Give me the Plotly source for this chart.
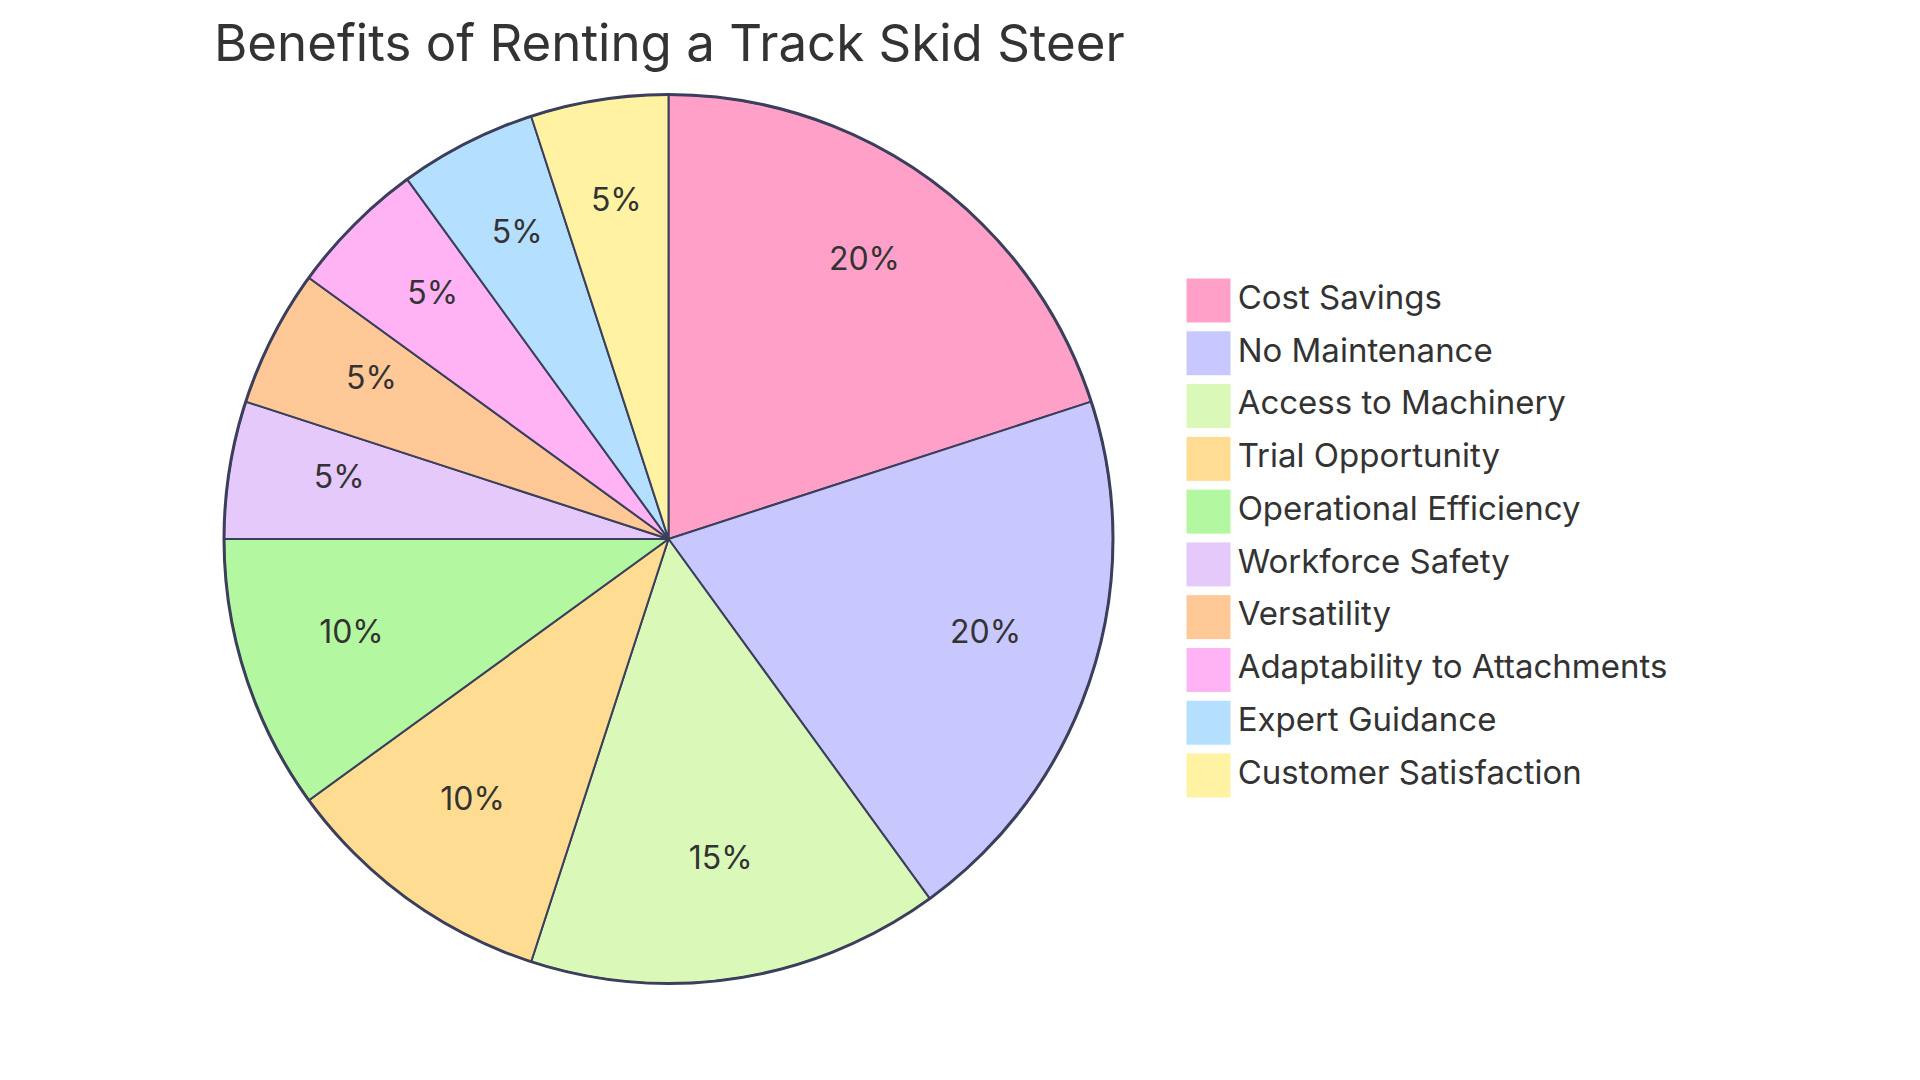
import numpy as np
import plotly.graph_objects as go

categories = ["Cost Savings", "No Maintenance", "Access to Machinery", "Trial Opportunity",
              "Operational Efficiency", "Workforce Safety", "Versatility",
              "Adaptability to Attachments", "Expert Guidance", "Customer Satisfaction"]
values = [20, 20, 15, 10, 10, 5, 5, 5, 5, 5]
colors = ["#FFA0C8", "#C8C8FF", "#DAF8B8", "#FEDD92", "#B3F7A0",
          "#E5C9FB", "#FFC896", "#FFB3F5", "#B4DFFF", "#FFF3A3"]
title_text = "Benefits of Renting a Track Skid Steer"

W, H = 1920, 1080
OFF = 8  # page body margin
FONT = "Inter, 'Open Sans', sans-serif"
TEXT = "#333333"
EDGE = "#3B3F5C"

fig = go.Figure()

cx, cy, r = 668.5 - OFF, 539.0 - OFF, 444.5
dom = dict(x=[(cx - r) / W, (cx + r) / W], y=[(H - cy - r) / H, (H - cy + r) / H])
lift = 7 / H  # labels sit slightly above the slice centroid
dom_lbl = dict(x=dom["x"], y=[dom["y"][0] + lift, dom["y"][1] + lift])

vals = np.array(values, dtype=float)
total = vals.sum()
share = vals / total
mid_theta = (np.cumsum(share) - share / 2) * 360
pct_text = [f"{s * 100:.0f}%" for s in share]

# pie slices as full-radius polar wedges
fig.add_trace(go.Barpolar(
    r=[1] * len(values), theta=mid_theta, width=share * 360,
    marker=dict(color=colors, line=dict(color=EDGE, width=2)),
    customdata=pct_text, text=categories,
    hovertemplate="%{text}: %{customdata}<extra></extra>",
    subplot="polar", showlegend=False,
))

# percentage labels at 75% of the radius, on each slice's mid-angle
fig.add_trace(go.Scatterpolar(
    r=[0.75] * len(values), theta=mid_theta, mode="text", text=pct_text,
    textposition="middle center",
    textfont=dict(family=FONT, size=32, color=TEXT),
    subplot="polar2", showlegend=False, hoverinfo="skip",
))

# legend drawn as a scatter of square swatches
fig.add_trace(go.Scatter(
    x=[0] * len(categories), y=categories, mode="markers+text",
    marker=dict(symbol="square", size=45, color=colors, line=dict(color="#FFFFFF", width=1)),
    text=categories, textposition="middle right",
    textfont=dict(family=FONT, size=33, color=TEXT),
    xaxis="x", yaxis="y", showlegend=False, hoverinfo="skip", cliponaxis=False,
))

row0, row9 = 300.5 - OFF, 775.5 - OFF
step = (row9 - row0) / 9
top = row0 - step / 2
bot = row9 + step / 2
sw_x = 1208.5 - OFF
x0 = 0.6 * W
hidden_polar = lambda d: dict(
    domain=d, bgcolor="rgba(0,0,0,0)", bargap=0,
    radialaxis=dict(range=[0, 1], visible=False, showgrid=False),
    angularaxis=dict(rotation=90, direction="clockwise", visible=False,
                     showgrid=False, showline=False))
polar1 = hidden_polar(dom)
polar1["angularaxis"] = dict(rotation=90, direction="clockwise", visible=True,
                             showgrid=False, showline=True, linecolor=EDGE, linewidth=3,
                             ticks="", showticklabels=False, layer="above traces")
fig.update_layout(
    width=W, height=H,
    margin=dict(l=0, r=0, t=0, b=0),
    paper_bgcolor="white", plot_bgcolor="white",
    title=dict(text=title_text, x=206 / W, xanchor="left", xref="paper",
               y=1 - 35 / H, yanchor="middle", yref="paper",
               font=dict(family=FONT, size=51, color=TEXT)),
    polar=polar1,
    polar2=hidden_polar(dom_lbl),
    xaxis=dict(domain=[0.6, 1.0], range=[-(sw_x - x0), W - sw_x], visible=False, fixedrange=True),
    yaxis=dict(domain=[(H - bot) / H, (H - top) / H], type="category",
               range=[9.5, -0.5], visible=False, fixedrange=True),
)

fig.write_html("out.html")
